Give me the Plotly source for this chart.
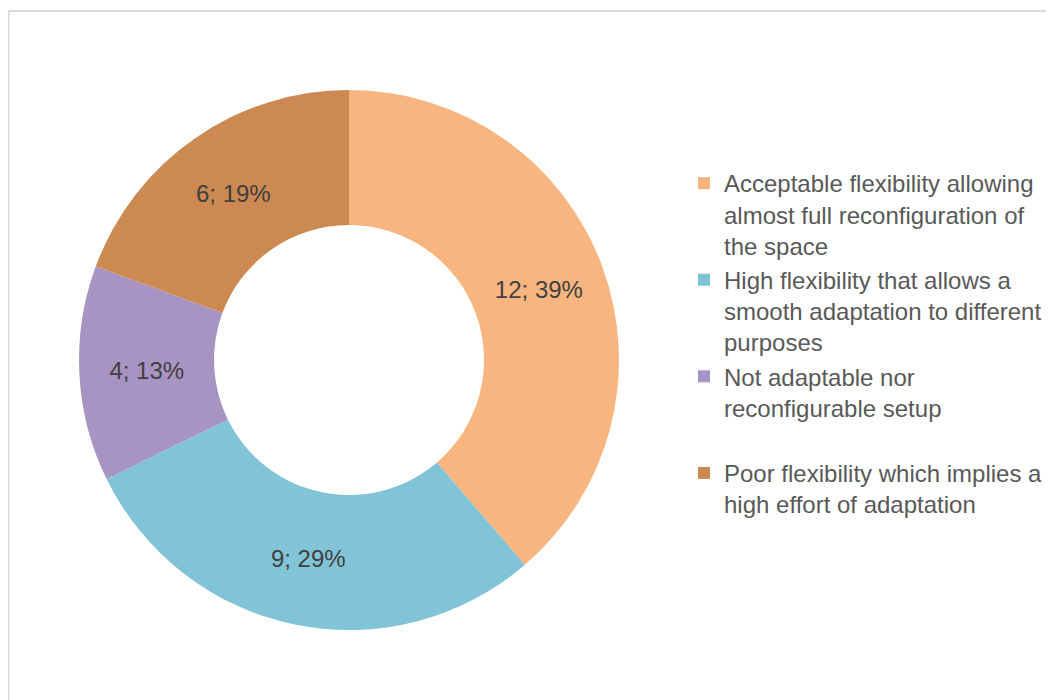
import plotly.graph_objects as go

labels = [
    "Acceptable flexibility allowing<br>almost full reconfiguration of<br>the space",
    "High flexibility that allows a<br>smooth adaptation to different<br>purposes",
    "Not adaptable nor<br>reconfigurable setup<br>&nbsp;",
    "Poor flexibility which implies a<br>high effort of adaptation",
]
values = [12, 9, 4, 6]
colors = ["#F9B57F", "#82C4D7", "#A894C2", "#CC8A52"]

W, H = 1054, 700
OFF = 8  # page body margin
cx, cy, R = 349 - OFF, 360 - OFF, 270

fig = go.Figure(go.Pie(
    labels=labels,
    values=values,
    hole=0.5,
    sort=False,
    direction="clockwise",
    rotation=0,
    marker=dict(colors=colors, line=dict(width=0)),
    texttemplate="%{value}; %{percent:.0%}",
    textposition="inside",
    insidetextorientation="horizontal",
    insidetextfont=dict(family="Arial, Liberation Sans", size=24, color="#404040"),
    domain=dict(x=[(cx - R) / W, (cx + R) / W], y=[(H - cy - R) / H, (H - cy + R) / H]),
    hoverinfo="label+value+percent",
))

fig.update_layout(
    width=W, height=H,
    margin=dict(l=0, r=0, t=0, b=0),
    paper_bgcolor="white",
    plot_bgcolor="white",
    font=dict(family="Arial, Liberation Sans", color="#595959"),
    legend=dict(
        x=676 / W, y=(H - 153) / H, xanchor="left", yanchor="top",
        valign="top",
        font=dict(family="Arial, Liberation Sans", size=24, color="#595959"),
        bgcolor="rgba(0,0,0,0)",
    ),
    shapes=[dict(
        type="rect", xref="paper", yref="paper",
        x0=0.5 / W, x1=1.02, y0=-0.02, y1=(H - 3) / H,
        line=dict(color="#D9D9D9", width=2), fillcolor="rgba(0,0,0,0)",
    )],
)

fig.write_html("out.html")
